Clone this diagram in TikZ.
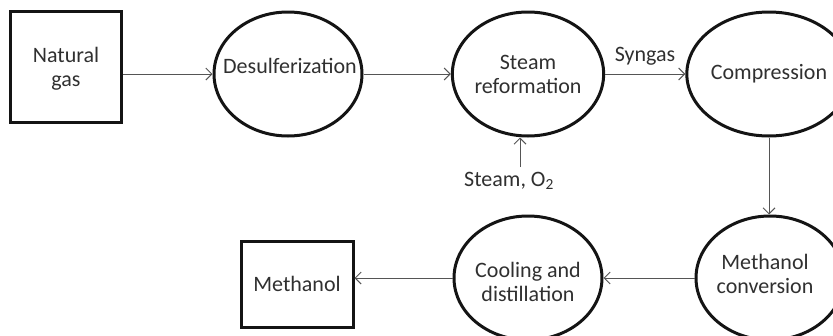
\documentclass[tikz,border=0pt]{standalone}
\usepackage{fontspec}
\setmainfont{Carlito}
\usetikzlibrary{arrows.meta,shapes.geometric}
\definecolor{txt}{HTML}{303030}
\definecolor{arr}{HTML}{555555}
\begin{document}
\begin{tikzpicture}[x=1pt,y=-1pt,
  every node/.style={font=\fontsize{22}{24}\selectfont, text=txt, align=center},
  proc/.style={ellipse, draw=black!92, line width=3pt, minimum width=148, minimum height=124, inner sep=0pt},
  term/.style={rectangle, draw=black!92, line width=3pt, inner sep=0pt},
  flow/.style={draw=arr, line width=1pt, -{Straight Barb[length=6pt,width=12pt,line width=1pt]}},
  lbl/.style={inner sep=1pt}]
\useasboundingbox (0,0) rectangle (833,335);
\clip (0,0) rectangle (833,335);
\node[term, minimum width=111, minimum height=111] (ng) at (66,67) {};
\node (ngt) at (66,69) {Natural\\gas};
\node[proc] (ds) at (288,74) {};
\node (dst) at (290,66) {Desulferization};
\node[proc] (sr) at (528,74) {Steam\\reformation};
\node[proc] (cp) at (769,74) {Compression};
\node[proc] (mc) at (770,278) {};
\node (mct) at (765,274) {Methanol\\conversion};
\node[proc] (cd) at (528,278) {};
\node (cdt) at (528,282) {Cooling and\\distillation};
\node[term, minimum width=112, minimum height=86] (mb) at (297,284) {Methanol};
\node[lbl] (sy) at (645,56) {Syngas};
\node[lbl] (so) at (509,181) {Steam, O\textsubscript{2}};
\coordinate (sin) at (520,167);
\draw[flow] (ng.east |- ds.west) -- (ds.west);
\draw[flow] (ds.east) -- (sr.west);
\draw[flow] (sr.east) -- (cp.west);
\draw[flow] (sin) -- (sin |- sr.south);
\draw[flow] (cp.south) -- (cp.south |- mc.north);
\draw[flow] (mc.west) -- (cd.east);
\draw[flow] (cd.west) -- (cd.west -| mb.east);
\end{tikzpicture}
\end{document}
